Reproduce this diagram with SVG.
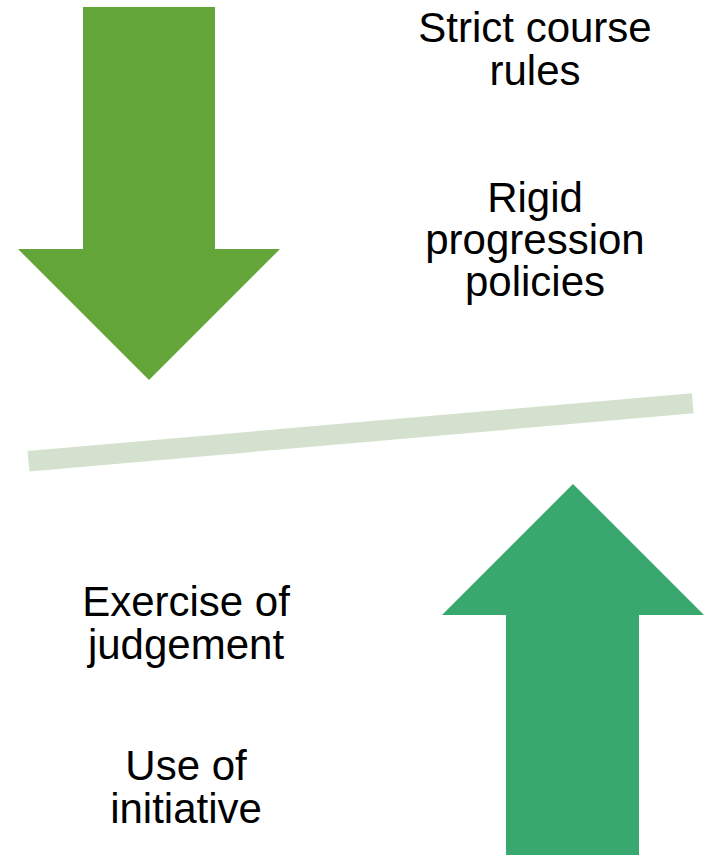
<svg xmlns="http://www.w3.org/2000/svg" width="707" height="855" viewBox="0 0 707 855">
<style>
.t{font-family:"Liberation Sans",Arial,sans-serif;font-size:42px;fill:#000;text-anchor:middle}
</style>
<rect width="707" height="855" fill="#fff"/>
<g id="down-arrow">
<polygon points="83,7 215,7 215,249 280,249 149,380 18,249 83,249" fill="#64A539"/>
</g>
<g id="up-arrow">
<polygon points="573,484 704,615 639,615 639,855 506,855 506,615 442,615" fill="#39A86F"/>
</g>
<g id="balance-bar">
<polygon points="27.5,451 692,393.3 693.5,413.3 29.5,471.5" fill="#D4E1CE"/>
</g>
<g id="label-strict">
<text class="t" x="535" y="42">Strict course</text>
<text class="t" x="535" y="85">rules</text>
</g>
<g id="label-rigid">
<text class="t" x="535" y="212">Rigid</text>
<text class="t" x="535" y="254">progression</text>
<text class="t" x="535" y="296">policies</text>
</g>
<g id="label-judgement">
<text class="t" x="186" y="616">Exercise of</text>
<text class="t" x="186" y="659">judgement</text>
</g>
<g id="label-initiative">
<text class="t" x="186" y="780">Use of</text>
<text class="t" x="186" y="823">initiative</text>
</g>
<g id="connectors"/>
</svg>
